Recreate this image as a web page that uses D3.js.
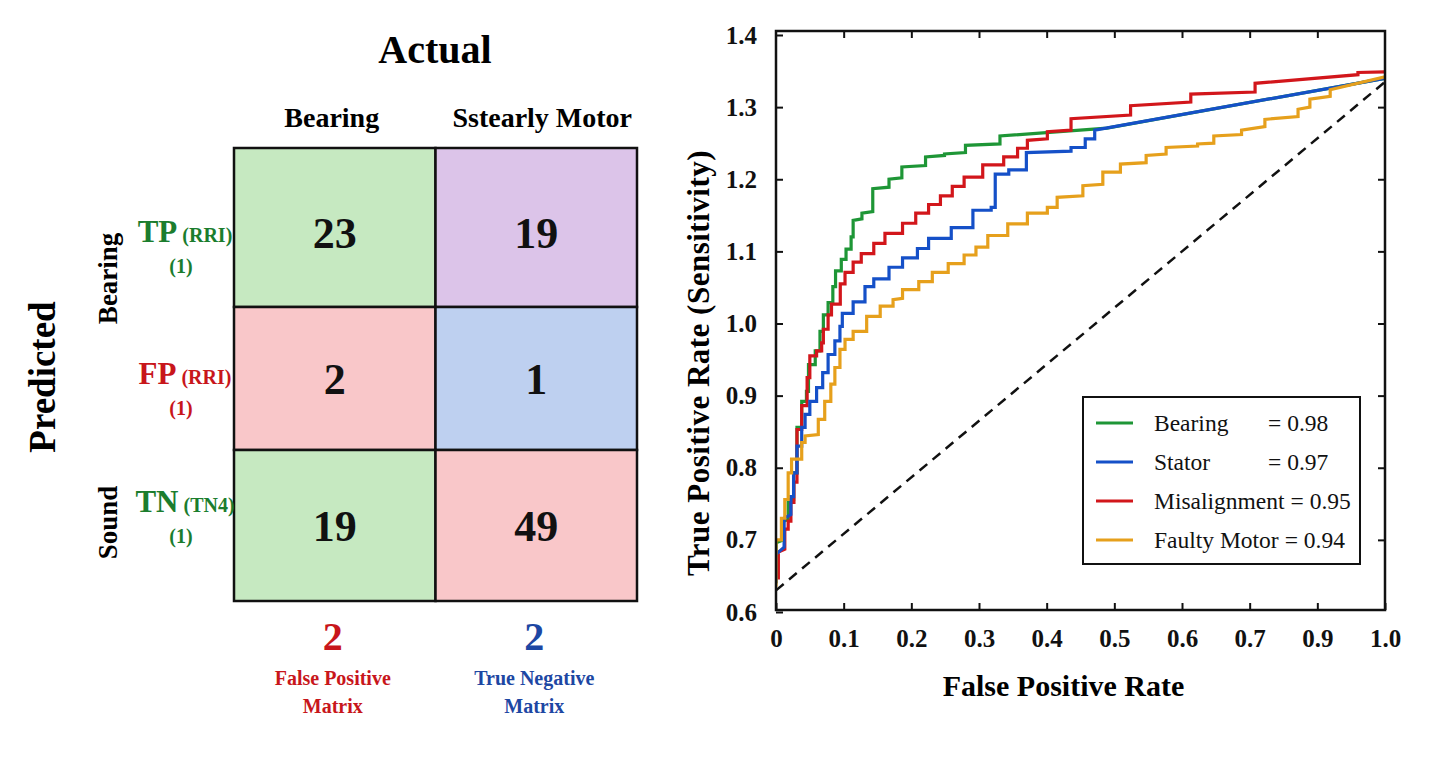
<!DOCTYPE html>
<html>
<head>
<meta charset="utf-8">
<script src="https://cdn.jsdelivr.net/npm/d3@7"></script>
<style>
  html, body { margin: 0; padding: 0; background: #fff; }
  svg { display: block; }
</style>
</head>
<body>
<div id="chart"></div>
<script>
/* ── Confusion matrix data ── */
const colLabels = ['Bearing', 'Sstearly Motor'];
const groupLabels = ['Bearing', 'Sound'];
const rowTags = ['TP', 'FP', 'TN'];
const rowTagSubs = ['(RRI)', '(RRI)', '(TN4)'];
const rowCounts = ['(1)', '(1)', '(1)'];
const cellValues = [[23, 19], [2, 1], [19, 49]];
const summaryCounts = [2, 2];
const summaryLabels = [['False Positive', 'Matrix'], ['True Negative', 'Matrix']];

/* ── ROC data: risers as [fpr, tprFrom, tprTo] ── */
const rocNames = ['Bearing', 'Stator', 'Misalignment', 'Faulty Motor'];
const rocAuc = ['0.98', '0.97', '0.95', '0.94'];

const bearingRoc = [
  [0, 0.64, 0.696], [0.011, 0.70, 0.726], [0.018, 0.728, 0.756], [0.026, 0.756, 0.793],
  [0.031, 0.793, 0.856], [0.038, 0.856, 0.892], [0.045, 0.892, 0.906], [0.048, 0.906, 0.943],
  [0.058, 0.943, 0.962], [0.065, 0.962, 0.989], [0.070, 0.989, 1.012], [0.077, 1.012, 1.029],
  [0.084, 1.029, 1.051], [0.088, 1.051, 1.073], [0.0965, 1.073, 1.089], [0.1035, 1.089, 1.103],
  [0.111, 1.103, 1.120], [0.114, 1.120, 1.143], [0.127, 1.145, 1.153], [0.143, 1.155, 1.187],
  [0.167, 1.189, 1.200], [0.186, 1.202, 1.217], [0.221, 1.219, 1.231], [0.249, 1.233, 1.235],
  [0.280, 1.237, 1.247], [0.331, 1.249, 1.260], [0.489, 1.271, 1.271], [1.0, 1.340, 1.340]
];
const statorRoc = [
  [0, 0.64, 0.68], [0.012, 0.69, 0.73], [0.022, 0.735, 0.76], [0.026, 0.76, 0.793],
  [0.031, 0.793, 0.830], [0.038, 0.830, 0.856], [0.043, 0.856, 0.874], [0.050, 0.874, 0.892],
  [0.060, 0.892, 0.911], [0.069, 0.911, 0.932], [0.077, 0.932, 0.957], [0.087, 0.957, 0.976],
  [0.0945, 0.976, 0.996], [0.098, 0.996, 1.014], [0.114, 1.014, 1.030], [0.1315, 1.030, 1.051],
  [0.1445, 1.051, 1.062], [0.167, 1.062, 1.078], [0.187, 1.078, 1.091], [0.209, 1.091, 1.104],
  [0.2255, 1.104, 1.118], [0.259, 1.118, 1.133], [0.291, 1.133, 1.157], [0.318, 1.157, 1.161],
  [0.324, 1.161, 1.207], [0.344, 1.207, 1.213], [0.370, 1.213, 1.237], [0.436, 1.239, 1.244],
  [0.457, 1.244, 1.256], [0.471, 1.256, 1.268], [1.0, 1.340, 1.340]
];
const misalignRoc = [
  [0.0035, 0.645, 0.683], [0.013, 0.687, 0.715], [0.018, 0.715, 0.726], [0.022, 0.726, 0.752],
  [0.0265, 0.752, 0.780], [0.031, 0.780, 0.853], [0.038, 0.853, 0.886], [0.046, 0.886, 0.925],
  [0.050, 0.925, 0.955], [0.060, 0.955, 0.962], [0.0675, 0.962, 0.973], [0.070, 0.973, 0.992],
  [0.077, 0.992, 1.012], [0.082, 1.012, 1.027], [0.095, 1.027, 1.055], [0.102, 1.055, 1.071],
  [0.114, 1.071, 1.085], [0.126, 1.085, 1.097], [0.1445, 1.097, 1.111], [0.161, 1.111, 1.125],
  [0.187, 1.125, 1.139], [0.2065, 1.139, 1.153], [0.2255, 1.153, 1.165], [0.243, 1.165, 1.177],
  [0.2605, 1.177, 1.190], [0.278, 1.190, 1.203], [0.3055, 1.203, 1.220], [0.3365, 1.220, 1.231],
  [0.357, 1.231, 1.243], [0.3715, 1.243, 1.254], [0.401, 1.256, 1.266], [0.436, 1.268, 1.284],
  [0.524, 1.289, 1.302], [0.613, 1.307, 1.318], [0.716, 1.321, 1.333], [0.960, 1.345, 1.348],
  [1.0, 1.349, 1.349]
];
const faultyRoc = [
  [0, 0.635, 0.70], [0.008, 0.70, 0.73], [0.013, 0.73, 0.756], [0.018, 0.756, 0.793],
  [0.023, 0.793, 0.812], [0.038, 0.812, 0.835], [0.043, 0.835, 0.844], [0.0625, 0.846, 0.867],
  [0.072, 0.867, 0.892], [0.081, 0.892, 0.916], [0.087, 0.916, 0.939], [0.0945, 0.939, 0.964],
  [0.102, 0.964, 0.978], [0.114, 0.978, 0.989], [0.134, 0.989, 1.010], [0.154, 1.010, 1.024],
  [0.173, 1.024, 1.033], [0.187, 1.035, 1.047], [0.211, 1.047, 1.058], [0.231, 1.058, 1.071],
  [0.2545, 1.071, 1.083], [0.278, 1.083, 1.095], [0.2955, 1.095, 1.106], [0.313, 1.106, 1.122],
  [0.3425, 1.122, 1.138], [0.3715, 1.138, 1.153], [0.401, 1.153, 1.161], [0.4155, 1.161, 1.175],
  [0.4535, 1.177, 1.191], [0.483, 1.193, 1.210], [0.509, 1.210, 1.221], [0.547, 1.223, 1.233],
  [0.5765, 1.235, 1.244], [0.623, 1.246, 1.249], [0.647, 1.250, 1.260], [0.688, 1.262, 1.268],
  [0.745, 1.273, 1.283], [0.843, 1.287, 1.297], [0.878, 1.300, 1.311], [0.919, 1.315, 1.324],
  [1.0, 1.342, 1.342]
];
const chanceLine = [[0, 0.63], [1.0, 1.335]];

const xTickValues = [0, 0.1, 0.2, 0.3, 0.4, 0.5, 0.6, 0.7, 0.9, 1.0];
const xTickLabels = ['0', '0.1', '0.2', '0.3', '0.4', '0.5', '0.6', '0.7', '0.9', '1.0'];
const yTickValues = [0.6, 0.7, 0.8, 0.9, 1.0, 1.1, 1.2, 1.3, 1.4];

/* ── Styling ── */
const SERIF = "'Liberation Serif', 'Times New Roman', serif";
const cellFills = [['#c6e9c1', '#dcc4e9'], ['#f9c7c9', '#bed0f0'], ['#c6e9c1', '#f9c7c9']];
const tagColors = ['#1b7d2e', '#c8161b', '#1b7d2e'];
const summaryColors = ['#c8161b', '#1d47a3'];
const rocColors = ['#1e9636', '#1550c8', '#d2161b', '#e6a01c'];
const rocDrawOrder = [0, 2, 1, 3];

const W = 1440, H = 780;
const svg = d3.select('#chart').append('svg')
  .attr('width', W).attr('height', H)
  .attr('font-family', SERIF);
svg.append('rect').attr('width', W).attr('height', H).attr('fill', '#fff');

/* ═══ Confusion matrix ═══ */
const colScale = d3.scaleBand().domain(d3.range(colLabels.length)).range([234, 637]);
const rowEdge = d3.scaleLinear().domain([0, 1, 2, 3]).range([148, 307, 450, 601]);
const rowMid = i => (rowEdge(i) + rowEdge(i + 1)) / 2;

const mat = svg.append('g');

mat.append('text')
  .attr('x', 435).attr('y', 63)
  .attr('text-anchor', 'middle')
  .attr('font-size', 40).attr('font-weight', 'bold')
  .text('Actual');

mat.selectAll('.col-label')
  .data(colLabels)
  .join('text')
  .attr('x', (d, i) => colScale(i) + colScale.bandwidth() / 2 + (i === 0 ? -3 : 6))
  .attr('y', 127)
  .attr('text-anchor', 'middle')
  .attr('font-size', 28).attr('font-weight', 'bold')
  .text(d => d);

const cells = cellValues.flatMap((row, i) => row.map((v, j) => ({ i, j, v })));

mat.selectAll('.cell')
  .data(cells)
  .join('rect')
  .attr('x', d => colScale(d.j))
  .attr('y', d => rowEdge(d.i))
  .attr('width', colScale.bandwidth())
  .attr('height', d => rowEdge(d.i + 1) - rowEdge(d.i))
  .attr('fill', d => cellFills[d.i][d.j])
  .attr('stroke', '#111')
  .attr('stroke-width', 2.5);

mat.selectAll('.cell-value')
  .data(cells)
  .join('text')
  .attr('x', d => colScale(d.j) + colScale.bandwidth() / 2)
  .attr('y', d => rowMid(d.i) + 15 + (d.i === 0 ? 5 : 0))
  .attr('text-anchor', 'middle')
  .attr('font-size', 44).attr('font-weight', 'bold')
  .attr('fill', '#111')
  .text(d => d.v);

// Predicted (rotated)
mat.append('text')
  .attr('transform', 'translate(55,377) rotate(-90)')
  .attr('text-anchor', 'middle')
  .attr('font-size', 37).attr('font-weight', 'bold')
  .text('Predicted');

// group labels: Bearing sits over rows 0-1, Sound over row 2
const groupY = [rowEdge(0) + (rowEdge(1) - rowEdge(0)) * 0.82, rowMid(2) - 3];
mat.selectAll('.group-label')
  .data(groupLabels)
  .join('text')
  .attr('transform', (d, i) => `translate(117,${groupY[i]}) rotate(-90)`)
  .attr('text-anchor', 'middle')
  .attr('font-size', 27).attr('font-weight', 'bold')
  .text(d => d);

// TP / FP / TN row tags
const labelNudge = [19, 10, -9];
rowTags.forEach((tag, i) => {
  const cy = rowMid(i) + labelNudge[i];
  const t = mat.append('text')
    .attr('x', 185).attr('y', cy - 5)
    .attr('text-anchor', 'middle')
    .attr('font-weight', 'bold')
    .attr('fill', tagColors[i]);
  t.append('tspan').attr('font-size', 31).text(tag);
  t.append('tspan').attr('font-size', 20).attr('dx', 5).text(rowTagSubs[i]);
  mat.append('text')
    .attr('x', 181).attr('y', cy + 26)
    .attr('text-anchor', 'middle')
    .attr('font-size', 20).attr('font-weight', 'bold')
    .attr('fill', tagColors[i])
    .text(rowCounts[i]);
});

// summary under the matrix
summaryCounts.forEach((c, j) => {
  const cx = colScale(j) + colScale.bandwidth() / 2 - 2;
  mat.append('text')
    .attr('x', cx).attr('y', 650)
    .attr('text-anchor', 'middle')
    .attr('font-size', 40).attr('font-weight', 'bold')
    .attr('fill', summaryColors[j])
    .text(c);
  summaryLabels[j].forEach((line, k) => {
    mat.append('text')
      .attr('x', cx).attr('y', 685 + k * 28)
      .attr('text-anchor', 'middle')
      .attr('font-size', 20).attr('font-weight', 'bold')
      .attr('fill', summaryColors[j])
      .text(line);
  });
});

/* ═══ ROC chart ═══ */
const roc = { left: 776, top: 31, w: 609, h: 579 };
const g = svg.append('g').attr('transform', `translate(${roc.left},${roc.top})`);

// evenly spaced tick positions (the axis skips 0.8)
const x = d3.scaleLinear()
  .domain(xTickValues)
  .range(xTickValues.map((d, i) => i / (xTickValues.length - 1) * roc.w));
const y = d3.scaleLinear().domain([0.6, 1.4]).range([roc.h + 2, 4]);

const tickLen = 7;

// ticks inside on all four sides
const xAxisB = d3.axisBottom(x).tickValues(xTickValues).tickFormat((d, i) => xTickLabels[i])
  .tickSizeInner(-tickLen).tickSizeOuter(0).tickPadding(tickLen + 12);
const xAxisT = d3.axisTop(x).tickValues(xTickValues.slice(1, -1)).tickFormat('')
  .tickSizeInner(-tickLen).tickSizeOuter(0);
const yAxisL = d3.axisLeft(y).tickValues(yTickValues).tickFormat(d3.format('.1f'))
  .tickSizeInner(-tickLen).tickSizeOuter(0).tickPadding(tickLen + 12);
const yAxisR = d3.axisRight(y).tickValues(yTickValues.slice(1, -1)).tickFormat('')
  .tickSizeInner(-tickLen).tickSizeOuter(0);

function styleAxis(sel) {
  sel.select('.domain').remove();
  sel.selectAll('.tick line').attr('stroke', '#111').attr('stroke-width', 2);
  sel.selectAll('.tick text')
    .attr('font-family', SERIF).attr('font-size', 25).attr('font-weight', 'bold')
    .attr('fill', '#111');
}

g.append('g').attr('transform', `translate(0,${roc.h})`).call(xAxisB).call(styleAxis);
g.append('g').call(xAxisT).call(styleAxis);
g.append('g').call(yAxisL).call(styleAxis);
g.append('g').attr('transform', `translate(${roc.w},0)`).call(yAxisR).call(styleAxis);

// chance diagonal
const line = d3.line().x(d => x(d[0])).y(d => y(d[1]));
g.append('path')
  .attr('d', line(chanceLine))
  .attr('fill', 'none')
  .attr('stroke', '#111')
  .attr('stroke-width', 2.5)
  .attr('stroke-dasharray', '10,7');

// ROC staircases
const rocSeries = [bearingRoc, statorRoc, misalignRoc, faultyRoc];
const toPolyline = risers => risers.flatMap(([fx, y0, y1]) => [[fx, y0], [fx, y1]]);

const clip = svg.append('defs').append('clipPath').attr('id', 'roc-clip');
clip.append('rect').attr('width', roc.w).attr('height', roc.h);

const curves = g.append('g').attr('clip-path', 'url(#roc-clip)');
rocDrawOrder.forEach(k => {
  curves.append('path')
    .attr('d', line(toPolyline(rocSeries[k])))
    .attr('fill', 'none')
    .attr('stroke', rocColors[k])
    .attr('stroke-width', 3.2)
    .attr('stroke-linejoin', 'miter');
});

// frame
g.append('rect')
  .attr('width', roc.w).attr('height', roc.h)
  .attr('fill', 'none')
  .attr('stroke', '#111')
  .attr('stroke-width', 2.5);

// axis titles
svg.append('text')
  .attr('x', roc.left + roc.w / 2 - 17).attr('y', 696)
  .attr('text-anchor', 'middle')
  .attr('font-size', 30).attr('font-weight', 'bold')
  .text('False Positive Rate');

svg.append('text')
  .attr('transform', `translate(709,${roc.top + 332}) rotate(-90)`)
  .attr('text-anchor', 'middle')
  .attr('font-size', 31).attr('font-weight', 'bold')
  .attr('letter-spacing', '0.5px')
  .text('True Positive Rate (Sensitivity)');

// legend
const lg = g.append('g').attr('transform', `translate(${1083 - roc.left},${397 - roc.top})`);
lg.append('rect')
  .attr('width', 277).attr('height', 167)
  .attr('fill', '#fff')
  .attr('stroke', '#111')
  .attr('stroke-width', 2);

const minEqX = 185;
rocNames.forEach((name, i) => {
  const ry = 26 + i * 39;
  lg.append('line')
    .attr('x1', 13).attr('x2', 50)
    .attr('y1', ry).attr('y2', ry)
    .attr('stroke', rocColors[i])
    .attr('stroke-width', 3);
  const nameText = lg.append('text')
    .attr('x', 71).attr('y', ry + 8)
    .attr('font-size', 23.5)
    .attr('fill', '#111')
    .text(name);
  const nameEnd = 71 + nameText.node().getComputedTextLength();
  lg.append('text')
    .attr('x', Math.max(minEqX, nameEnd + 6)).attr('y', ry + 8)
    .attr('font-size', 23.5)
    .attr('fill', '#111')
    .text('= ' + rocAuc[i]);
});
</script>
</body>
</html>
